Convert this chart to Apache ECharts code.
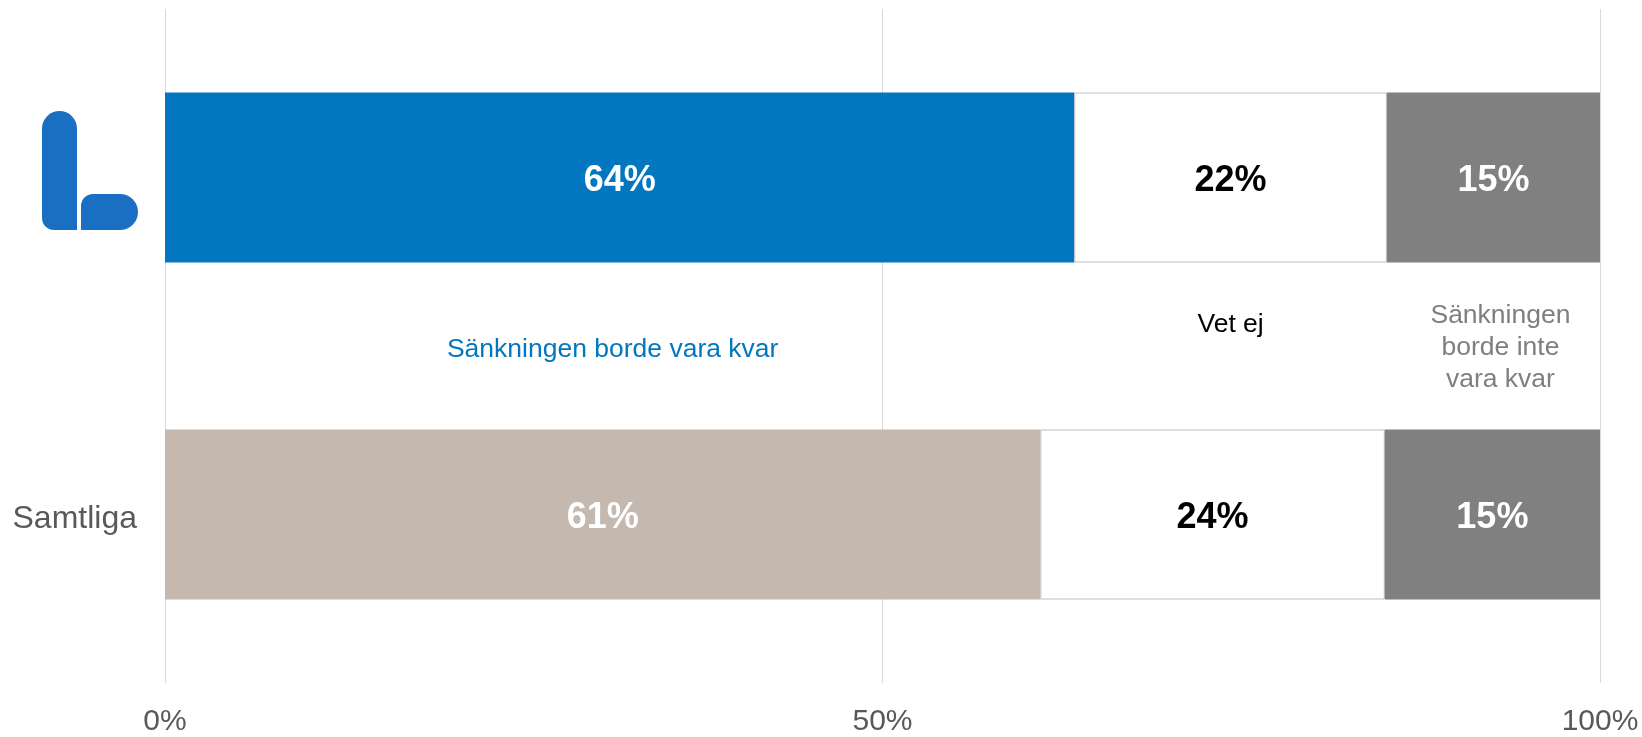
<!DOCTYPE html>
<html>
<head>
<meta charset="utf-8">
<script src="https://cdn.jsdelivr.net/npm/echarts@6/dist/echarts.min.js"></script>
<style>
  html, body { margin: 0; padding: 0; background: #fff; }
  #chart { width: 1642px; height: 737px; }
</style>
</head>
<body>
<div id="chart"></div>
<script>
// rader: första raden visas med logga, andra är samtliga
const categories = ['', 'Samtliga']
const kvar = [64, 61]
const vetEj = [22, 24]
const inteKvar = [15, 15]
const xTicks = [0, 50, 100]
const legendNames = ['Sänkningen borde vara kvar', 'Vet ej', 'Sänkningen\nborde inte\nvara kvar']

const font = '"Liberation Sans", Arial, sans-serif'

// 100%-staplar: varje rad normeras mot sin summa
const totals = kvar.map((v, i) => v + vetEj[i] + inteKvar[i])
const share = arr => arr.map((v, i) => ({ value: v / totals[i] * 100, raw: v }))

const labelStyle = color => ({
  show: true,
  position: 'inside',
  offset: [0, 4],
  formatter: p => p.data.raw + '%',
  color: color,
  fontSize: 36,
  fontWeight: 'bold',
  fontFamily: font
})

const mycharts = echarts.init(document.getElementById('chart'))
mycharts.setOption({
  animation: false,
  grid: { left: 165, right: 42, top: 9, bottom: 52 },
  xAxis: {
    type: 'value',
    min: 0,
    max: 100,
    interval: 50,
    axisLine: { show: false },
    axisTick: { show: false },
    splitLine: { lineStyle: { color: '#D9D9D9', width: 1 } },
    axisLabel: {
      formatter: v => xTicks.includes(v) ? v + '%' : '',
      color: '#595959',
      fontSize: 30,
      fontFamily: font,
      margin: 24
    }
  },
  yAxis: {
    type: 'category',
    inverse: true,
    data: categories,
    axisLine: { show: false },
    axisTick: { show: false },
    axisLabel: {
      formatter: v => v ? '{a|' + v + '}' : '',
      margin: 28,
      rich: {
        a: {
          color: '#595959',
          fontSize: 32,
          fontFamily: font,
          padding: [10, 0, 0, 0]
        }
      }
    }
  },
  series: [
    {
      name: legendNames[0],
      type: 'bar',
      stack: 'total',
      barWidth: 170,
      data: share(kvar).map((d, i) => ({
        ...d,
        itemStyle: { color: i === 0 ? '#0277BF' : '#C4B8AF' }
      })),
      label: labelStyle('#fff')
    },
    {
      name: legendNames[1],
      type: 'bar',
      stack: 'total',
      barWidth: 170,
      data: share(vetEj),
      itemStyle: { color: '#fff', borderColor: '#BFBFBF', borderWidth: 1 },
      label: labelStyle('#000')
    },
    {
      name: legendNames[2],
      type: 'bar',
      stack: 'total',
      barWidth: 170,
      data: share(inteKvar),
      itemStyle: { color: '#808080' },
      label: labelStyle('#fff')
    }
  ]
})

// etiketter mellan staplarna, centrerade över respektive segment i första raden
const s1 = kvar[0] / totals[0] * 100
const s2 = vetEj[0] / totals[0] * 100
const mids = [s1 / 2, s1 + s2 / 2, s1 + s2 + (100 - s1 - s2) / 2]
const yMid = (mycharts.convertToPixel({ yAxisIndex: 0 }, 0) + mycharts.convertToPixel({ yAxisIndex: 0 }, 1)) / 2
const legendColors = ['#0277BF', '#000', '#7F7F7F']
const legendDx = [-7, 0, 7]
const legendDy = [4, -21, 2]

const texts = mids.map((m, i) => ({
  type: 'text',
  x: mycharts.convertToPixel({ xAxisIndex: 0 }, m) + legendDx[i],
  y: yMid + legendDy[i],
  style: {
    text: legendNames[i],
    fill: legendColors[i],
    font: '26.5px ' + font,
    lineHeight: 32,
    textAlign: 'center',
    textVerticalAlign: 'middle'
  }
}))

// loggan (L) till vänster om första raden
const logo = [
  { type: 'rect', shape: { x: 42, y: 111, width: 35, height: 119, r: [17.5, 17.5, 0, 12] }, style: { fill: '#1A6FC2' } },
  { type: 'rect', shape: { x: 81, y: 194, width: 57, height: 36, r: [12, 18, 18, 0] }, style: { fill: '#1A6FC2' } }
]

mycharts.setOption({ graphic: texts.concat(logo) })
</script>
</body>
</html>
